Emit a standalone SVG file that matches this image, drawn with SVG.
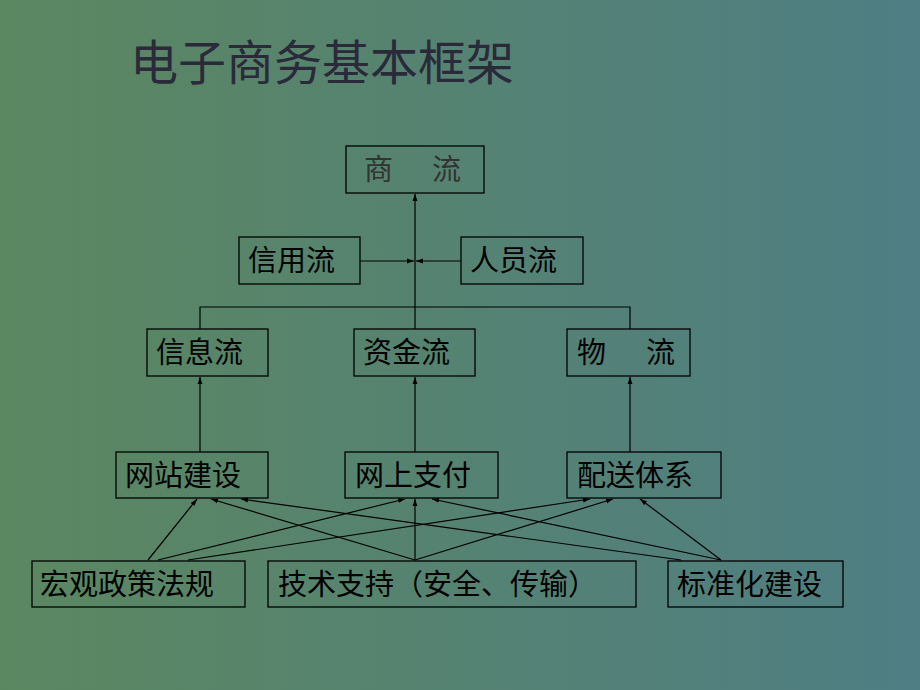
<svg xmlns="http://www.w3.org/2000/svg" width="920" height="690" viewBox="0 0 920 690">
<defs>
<linearGradient id="bg" x1="0" y1="0" x2="1" y2="0">
<stop offset="0" stop-color="#5b8760"/><stop offset="1" stop-color="#4f7e84"/>
</linearGradient>
<marker id="ah" viewBox="0 0 10 10" refX="10" refY="5" markerWidth="7" markerHeight="7" orient="auto" markerUnits="userSpaceOnUse"><path d="M0,1.5 L10,5 L0,8.5 Z" fill="#000"/></marker>
<style>
.b{fill:none;stroke:#000;stroke-width:1.3}
.t{font-family:"Noto Sans CJK SC","Noto Sans CJK JP",sans-serif;font-size:29px;fill:#000}
.c line,.c path{stroke:#000;stroke-width:1.2;fill:none}
</style>
</defs>
<rect width="920" height="690" fill="url(#bg)"/>
<text x="130" y="80" font-family="Noto Sans CJK SC,sans-serif" font-size="48" fill="#2a2a3a">电子商务基本框架</text>
<g class="c">
<line x1="415" y1="329" x2="415" y2="194" marker-end="url(#ah)"/>
<line x1="360" y1="261" x2="414" y2="261" marker-end="url(#ah)"/>
<line x1="461" y1="261" x2="416" y2="261" marker-end="url(#ah)"/>
<path d="M200,329 V307 H630 V329"/>
<line x1="200" y1="452" x2="200" y2="377" marker-end="url(#ah)"/>
<line x1="415" y1="452" x2="415" y2="377" marker-end="url(#ah)"/>
<line x1="630" y1="452" x2="630" y2="377" marker-end="url(#ah)"/>
<line x1="148" y1="560" x2="197" y2="499" marker-end="url(#ah)"/>
<line x1="158" y1="560" x2="405" y2="499" marker-end="url(#ah)"/>
<line x1="188" y1="560" x2="590" y2="499" marker-end="url(#ah)"/>
<line x1="415" y1="560" x2="211" y2="499" marker-end="url(#ah)"/>
<line x1="415" y1="560" x2="415" y2="499" marker-end="url(#ah)"/>
<line x1="415" y1="560" x2="613" y2="499" marker-end="url(#ah)"/>
<line x1="681" y1="560" x2="241" y2="499" marker-end="url(#ah)"/>
<line x1="721" y1="560" x2="432" y2="499" marker-end="url(#ah)"/>
<line x1="721" y1="560" x2="640" y2="499" marker-end="url(#ah)"/>
</g>
<g id="shangliu"><rect class="b" x="346" y="146" width="138" height="47"/><text class="t" x="364" y="180" style="fill:#333">商</text><text class="t" x="432" y="180" style="fill:#333">流</text></g>
<g id="xinyong"><rect class="b" x="239" y="237" width="121" height="47"/><text class="t" x="248" y="271">信用流</text></g>
<g id="renyuan"><rect class="b" x="461" y="237" width="122" height="47"/><text class="t" x="470" y="271">人员流</text></g>
<g id="xinxi"><rect class="b" x="147" y="329" width="121" height="47"/><text class="t" x="156" y="363">信息流</text></g>
<g id="zijin"><rect class="b" x="354" y="329" width="121" height="47"/><text class="t" x="363" y="363">资金流</text></g>
<g id="wuliu"><rect class="b" x="567" y="329" width="123" height="47"/><text class="t" x="577" y="363">物</text><text class="t" x="646" y="363">流</text></g>
<g id="wangzhan"><rect class="b" x="116" y="452" width="152" height="46"/><text class="t" x="125" y="486">网站建设</text></g>
<g id="zhifu"><rect class="b" x="345" y="452" width="153" height="46"/><text class="t" x="355" y="486">网上支付</text></g>
<g id="peisong"><rect class="b" x="567" y="452" width="154" height="46"/><text class="t" x="577" y="486">配送体系</text></g>
<g id="zhengce"><rect class="b" x="32" y="561" width="213" height="46"/><text class="t" x="40" y="595">宏观政策法规</text></g>
<g id="jishu"><rect class="b" x="268" y="561" width="368" height="46"/><text class="t" x="278" y="595">技术支持（安全、传输）</text></g>
<g id="biaozhun"><rect class="b" x="668" y="561" width="175" height="46"/><text class="t" x="677" y="595">标准化建设</text></g>
</svg>
